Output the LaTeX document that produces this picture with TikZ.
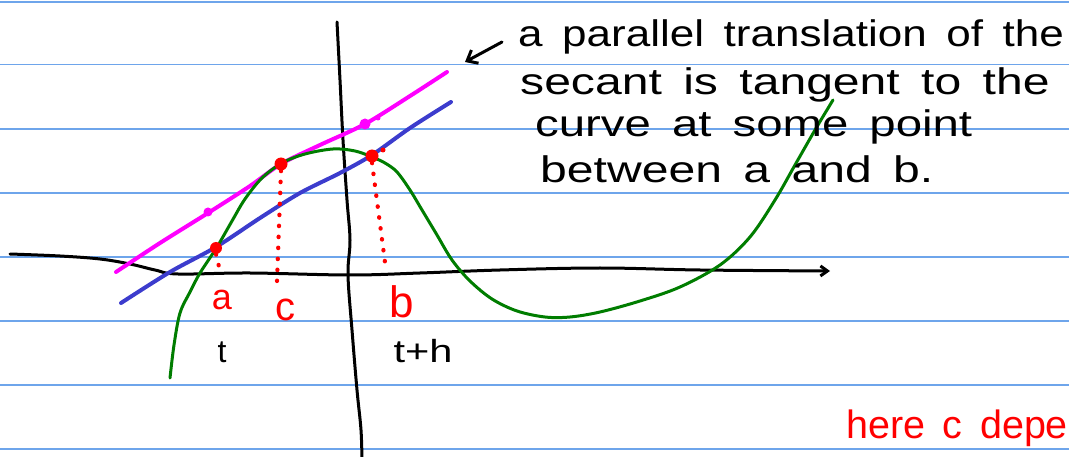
\documentclass[tikz,border=0pt]{standalone}
\usepackage{fontspec}
\usepackage{graphicx}
\usetikzlibrary{arrows.meta}
\setmainfont{Liberation Sans}
\newfontfamily\handfont[WordSpace=1.6]{Liberation Sans}
\definecolor{rulecol}{RGB}{110,165,235}
\definecolor{pengreen}{RGB}{0,125,0}
\definecolor{penblue}{RGB}{60,60,205}
\definecolor{penmagenta}{RGB}{255,0,255}
\definecolor{penred}{RGB}{255,0,0}
\begin{document}
\begin{tikzpicture}[x=1pt,y=-1pt,
  pen/.style={line width=3pt, line cap=round, line join=round},
  thickpen/.style={line width=4pt, line cap=round, line join=round},
  ruleline/.style={draw=rulecol, line width=1.5pt},
  dotline/.style={draw=penred, line width=4.2pt, line cap=round, dash pattern=on 0.5pt off 10.5pt},
  notetext/.style={anchor=base west, inner sep=0pt, font=\handfont\fontsize{37}{44}\selectfont},
  redlabel/.style={anchor=base, inner sep=0pt, text=penred},
  blacklabel/.style={anchor=base, inner sep=0pt, text=black},
  reddot/.style={circle, fill=penred, inner sep=0pt, minimum size=12pt},
  magdot/.style={circle, fill=penmagenta, inner sep=0pt, minimum size=9pt}]
\useasboundingbox (0,0) rectangle (1069,457);
\clip (0,0) rectangle (1069,457);
% ruled paper
\foreach \yy in {2,64.5,129,193,257,321,385,449}
  \draw[ruleline] (0,\yy) -- (1069,\yy);
% axes
\draw[pen, -{Straight Barb[length=7pt,width=10pt]}] plot[smooth, tension=0.6] coordinates
  {(10,254) (60,256) (100,259) (130,264) (155,270) (178,274) (250,273) (350,275) (420,273) (500,270) (600,268) (700,270) (830,271)};
\draw[pen] plot[smooth, tension=0.6] coordinates
  {(337,22) (340,80) (343,140) (347,200) (350,240) (348,275) (352,330) (357,390) (361,430) (362,462)};
% secant (blue) and its translation (magenta)
\draw[thickpen, draw=penmagenta] plot[smooth, tension=0.5] coordinates
  {(116,272) (160,243) (208,213) (250,186) (281,164) (320,145) (365,124) (410,96) (447,72)};
\draw[thickpen, draw=penblue] plot[smooth, tension=0.5] coordinates
  {(121,303) (170,272) (216,247) (260,218) (300,193) (340,173) (372,155) (410,128) (451,102)};
% the curve
\draw[pen, draw=pengreen] plot[smooth, tension=0.55] coordinates
  {(170,378) (174,345) (180,313) (190,292) (200,273) (217,247) (232,221) (245,199) (262,178)
   (282,163) (305,154) (333,149) (355,151) (372,157) (385,163) (397,172) (410,190) (422,210)
   (437,235) (452,260) (470,281) (492,299) (517,311) (545,317) (570,317) (600,312) (640,301)
   (680,287) (720,265) (750,237) (775,200) (795,165) (815,130) (833,100)};
% points
\node[magdot] (m1) at (208,212) {};
\node[magdot, minimum size=11pt] (m2) at (365,124) {};
\node[magdot, minimum size=5pt] (m3) at (378,118) {};
\node[reddot, minimum size=5pt] (r3) at (383,150) {};
\node[reddot] (pa) at (216,248) {};
\node[reddot, minimum size=13pt] (pc) at (281,164) {};
\node[reddot, minimum size=13pt] (pb) at (372,156) {};
\coordinate (afoot) at (220,271);
\coordinate (cfoot) at (277,281);
\coordinate (bfoot) at (386,270);
\draw[dotline] (pa.south) -- (afoot);
\draw[dotline] (pc.south) -- (cfoot);
\draw[dotline] (pb.south) -- (bfoot);
% labels
\node[redlabel, font=\fontsize{36}{42}\selectfont] (la) at (222,309) {a};
\node[redlabel, font=\fontsize{40}{48}\selectfont] (lc) at (285,320) {c};
\node[redlabel, font=\fontsize{44}{52}\selectfont] (lb) at (402,318) {b};
\node[blacklabel, font=\fontsize{32}{38}\selectfont] (lt) at (222,362) {t};
\node[blacklabel, font=\fontsize{32}{38}\selectfont] (lth) at (423,362) {\scalebox{1.3}[1]{t+h}};
% note
\node[notetext] (note1) at (518,47) {\scalebox{1.19}[1]{a parallel translation of the}};
\node[notetext] (note2) at (520,95) {\scalebox{1.3}[1]{secant is tangent to the}};
\node[notetext] (note3) at (535,137) {\scalebox{1.28}[1]{curve at some point}};
\node[notetext] (note4) at (540,183) {\scalebox{1.3}[1]{between a and b.}};
\coordinate (arrtail) at (502,42);
\coordinate (arrhead) at (465,62);
\draw[pen, -{Straight Barb[length=9pt,width=15pt]}] (arrtail) -- (arrhead);
\node[anchor=base west, inner sep=0pt, text=penred, font=\handfont\fontsize{39.5}{48}\selectfont] (rednote) at (846,438) {here c depe};
\end{tikzpicture}
\end{document}
